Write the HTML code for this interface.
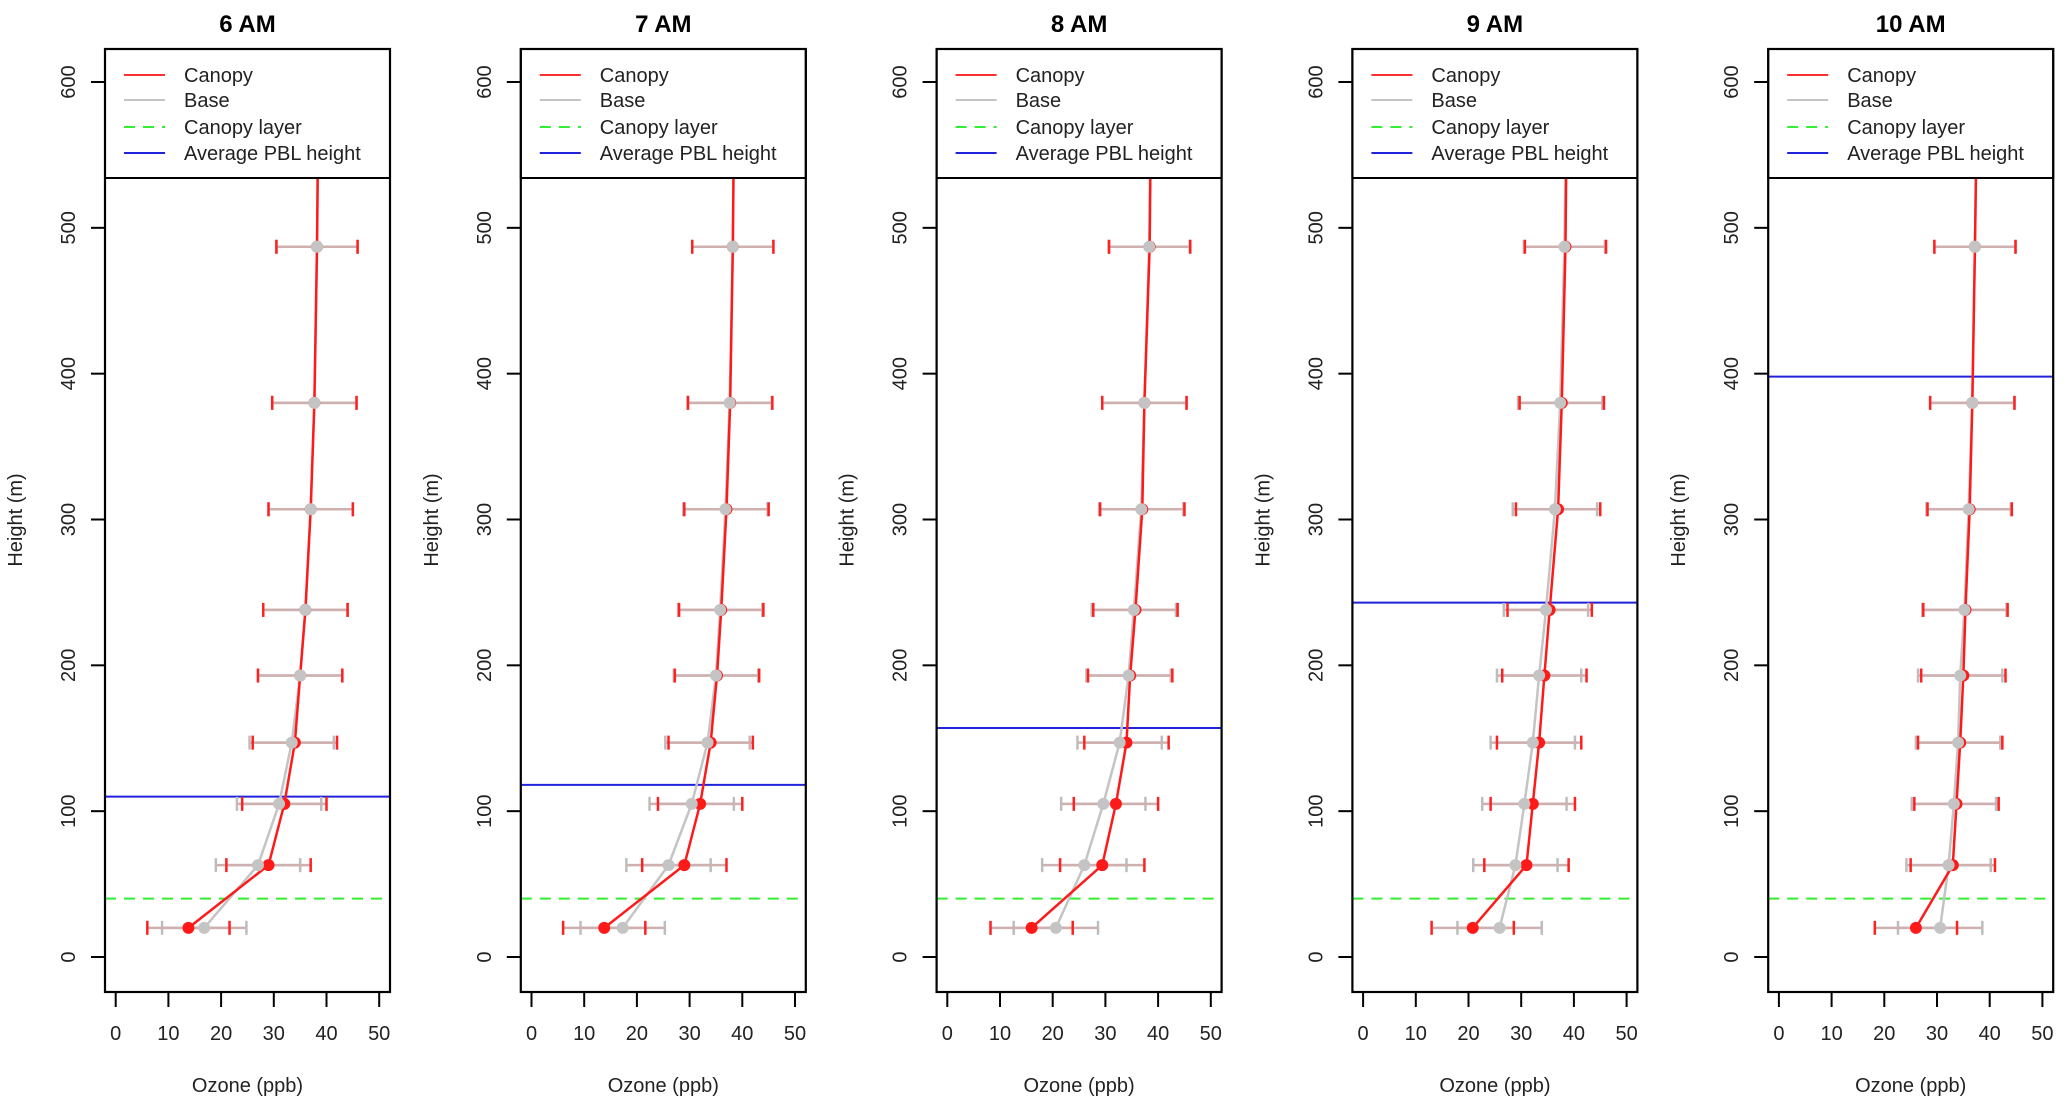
<!DOCTYPE html>
<html><head><meta charset="utf-8"><style>
html,body{margin:0;padding:0;background:#fff;}
svg{display:block;font-family:"Liberation Sans",Arial,sans-serif;}
</style></head><body>
<svg id="chart" width="2067" height="1104" viewBox="0 0 2067 1104" xmlns="http://www.w3.org/2000/svg"></svg>
<script>
const panelTitles = ["6 AM","7 AM","8 AM","9 AM","10 AM"];
const heights = [20, 63, 105, 147, 193, 238, 307, 380, 487, 640];
const canopy6 = [13.8, 29, 32, 34, 35, 36, 37, 37.7, 38.2, 38.6];
const base6   = [16.8, 27, 31, 33.4, 35, 36, 37, 37.7, 38.2, 38.6];
const canopy7 = [13.8, 29, 32, 34, 35.2, 36, 37, 37.7, 38.2, 38.6];
const base7   = [17.3, 26, 30.4, 33.4, 35, 35.8, 36.8, 37.6, 38.2, 38.6];
const canopy8 = [16, 29.4, 32, 34, 34.7, 35.7, 37, 37.4, 38.4, 38.8];
const base8   = [20.6, 26, 29.6, 32.7, 34.4, 35.4, 36.8, 37.4, 38.3, 38.8];
const canopy9 = [20.8, 31, 32.2, 33.4, 34.4, 35.4, 37, 37.7, 38.4, 38.8];
const base9   = [25.9, 28.9, 30.6, 32.2, 33.4, 34.7, 36.4, 37.4, 38.2, 38.8];
const canopy10 = [26, 33, 33.7, 34.4, 35, 35.4, 36.2, 36.7, 37.2, 37.8];
const base10   = [30.6, 32.2, 33.2, 34, 34.4, 35.2, 36, 36.7, 37.2, 37.8];
const errCanopy = [7.8, 8, 8, 8, 8, 8, 8, 8, 7.7, 7.7];
const errBase   = [8, 8, 8, 8, 8, 8, 8, 8, 7.7, 7.7];
const pblHeights = [110, 118, 157, 243, 398];
const canopyLayer = 40;
const xTicks = [0, 10, 20, 30, 40, 50];
const yTicks = [0, 100, 200, 300, 400, 500, 600];
const legendLabels = ["Canopy","Base","Canopy layer","Average PBL height"];

const canopySeries = [canopy6, canopy7, canopy8, canopy9, canopy10];
const baseSeries = [base6, base7, base8, base9, base10];

const NS = "http://www.w3.org/2000/svg";
const svg = document.getElementById('chart');
function mk(tag, attrs, parent){
  const e = document.createElementNS(NS, tag);
  for (const k in attrs) e.setAttribute(k, attrs[k]);
  (parent||svg).appendChild(e);
  return e;
}
const PANEL_DX = 415.8, BOX_L = 105, BOX_W = 285, BOX_T = 49, BOX_B = 992;
const X0 = 115.7, XS = 5.27, Y0 = 957, YS = 875/600;

for (let p = 0; p < 5; p++) {
  const off = p * PANEL_DX;
  const xs = v => off + X0 + v * XS;
  const ys = h => Y0 - h * YS;
  const L = off + BOX_L, R = L + BOX_W;
  const g = mk('g', {});
  
  

  const clipId = 'clip' + p;
  const cp = mk('clipPath', {id: clipId}, g);
  mk('rect', {x: L, y: BOX_T, width: BOX_W, height: BOX_B - BOX_T}, cp);

  const t = mk('text', {x: L + BOX_W/2, y: 32, 'text-anchor': 'middle', 'font-size': 24, 'font-weight': 'bold', fill: '#000'}, g);
  t.textContent = panelTitles[p];
  
  

  const plot = mk('g', {'clip-path': 'url(#' + clipId + ')'}, g);

  const cl = mk('line', {x1: L, x2: R, y1: ys(canopyLayer), y2: ys(canopyLayer), stroke: '#33ee33', 'stroke-width': 2, 'stroke-dasharray': '11 8'}, plot);
  
  
  const pl = mk('line', {x1: L, x2: R, y1: ys(pblHeights[p]), y2: ys(pblHeights[p]), stroke: '#2222dd', 'stroke-width': 2}, plot);
  
  

  const groups = {};
  ['bars-base','bars-canopy','line-base','line-canopy','pts-canopy','pts-base'].forEach(k => { groups[k] = mk('g', {}, plot); });

  const drawBars = (vals, errs, capColor, name, grp) => {
    for (let i = 0; i < heights.length; i++) {
      const y = ys(heights[i]);
      const a = xs(vals[i] - errs[i]), b = xs(vals[i] + errs[i]);
      const eb = mk('g', {}, grp);
      
      
      mk('line', {x1: a, x2: b, y1: y, y2: y, stroke: '#cfb0b0', 'stroke-width': 2.5}, eb);
      mk('line', {x1: a, x2: a, y1: y-7, y2: y+7, stroke: capColor, 'stroke-width': 2.5}, eb);
      mk('line', {x1: b, x2: b, y1: y-7, y2: y+7, stroke: capColor, 'stroke-width': 2.5}, eb);
    }
  };
  const drawLine = (vals, color, name, grp) => {
    const pts = heights.map((h, i) => xs(vals[i]) + ',' + ys(h)).join(' ');
    const ln = mk('polyline', {points: pts, fill: 'none', stroke: color, 'stroke-width': 2.5}, grp);
    
    
  };
  const drawPts = (vals, color, name, grp) => {
    for (let i = 0; i < heights.length; i++) {
      const c = mk('circle', {cx: xs(vals[i]), cy: ys(heights[i]), r: 6, fill: color}, grp);
      
      
    }
  };
  drawBars(baseSeries[p], errBase, '#bdbdbd', 'base', groups['bars-base']);
  drawBars(canopySeries[p], errCanopy, '#ff2020', 'canopy', groups['bars-canopy']);
  drawLine(baseSeries[p], '#c4c4c4', 'base', groups['line-base']);
  drawLine(canopySeries[p], '#ff1a1a', 'canopy', groups['line-canopy']);
  drawPts(canopySeries[p], '#ff1a1a', 'canopy', groups['pts-canopy']);
  drawPts(baseSeries[p], '#c4c4c4', 'base', groups['pts-base']);

  const lg = mk('g', {}, g);
  
  
  mk('rect', {x: L, y: BOX_T, width: BOX_W, height: 129, fill: '#fff', stroke: '#000', 'stroke-width': 2}, lg);
  const lcol = ['#ff3030', '#c4c4c4', '#33ee33', '#2222dd'];
  const ly = [75, 100, 127, 153];
  for (let i = 0; i < 4; i++) {
    const e = mk('g', {}, lg);
    
    
    const a = {x1: L + 19, x2: L + 60, y1: ly[i], y2: ly[i], stroke: lcol[i], 'stroke-width': 2};
    if (i === 2) a['stroke-dasharray'] = '11 8';
    mk('line', a, e);
    const tx = mk('text', {x: L + 79, y: ly[i] + 7, 'font-size': 20, fill: '#222'}, e);
    tx.textContent = legendLabels[i];
  }

  const bx = mk('rect', {x: L, y: BOX_T, width: BOX_W, height: BOX_B - BOX_T, fill: 'none', stroke: '#000', 'stroke-width': 2.2}, g);
  
  

  const xa = mk('g', {}, g);
  
  
  xTicks.forEach(v => {
    mk('line', {x1: xs(v), x2: xs(v), y1: 993, y2: 1007, stroke: '#000', 'stroke-width': 2}, xa);
    const tx = mk('text', {x: xs(v), y: 1040, 'text-anchor': 'middle', 'font-size': 20, fill: '#222'}, xa);
    tx.textContent = v;
  });
  const xt = mk('text', {x: L + BOX_W/2, y: 1092, 'text-anchor': 'middle', 'font-size': 20, fill: '#222'}, g);
  xt.textContent = 'Ozone (ppb)';
  
  

  const ya = mk('g', {}, g);
  
  
  yTicks.forEach(v => {
    mk('line', {x1: L - 14, x2: L, y1: ys(v), y2: ys(v), stroke: '#000', 'stroke-width': 2}, ya);
    const tx = mk('text', {x: 0, y: 0, 'text-anchor': 'middle', 'font-size': 20, fill: '#222', transform: 'translate(' + (L - 30) + ',' + ys(v) + ') rotate(-90)'}, ya);
    tx.textContent = v;
  });
  const yt = mk('text', {x: 0, y: 0, 'text-anchor': 'middle', 'font-size': 20, fill: '#222', transform: 'translate(' + (L - 83) + ',' + 520 + ') rotate(-90)'}, g);
  yt.textContent = 'Height (m)';
  
  
}
</script>
</body></html>
